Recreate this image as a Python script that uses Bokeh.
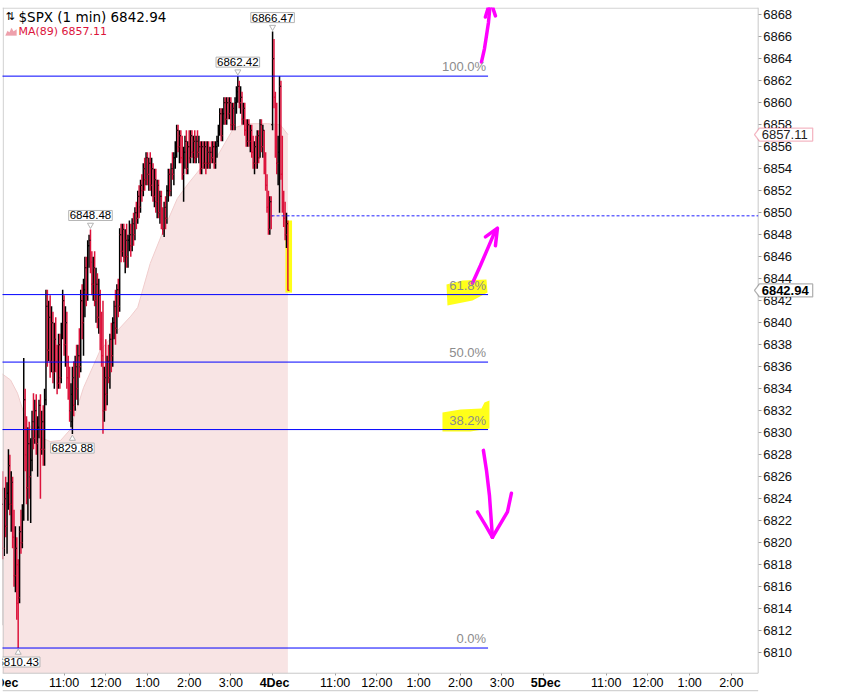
import pandas as pd
from bokeh.plotting import figure
from bokeh.models import ColumnDataSource, Range1d, FixedTicker, Label, PolyAnnotation
from bokeh.embed import file_html
from bokeh.resources import INLINE

# ---------------- data ----------------
SYMBOL = "$SPX"
INTERVAL = "1 min"
MA_PERIOD = 89
SESSIONS = ["2025-12-03", "2025-12-04", "2025-12-05"]
SESSION_OPEN = "09:30"
SESSION_MINUTES = 390

BAR_TIMES = (list(pd.date_range("2025-12-03 09:30", "2025-12-03 15:58", freq="2min")) +
             list(pd.date_range("2025-12-04 09:30", "2025-12-04 09:52", freq="2min")))

OPEN = [
    6814.0, 6823.5, 6819.5, 6824.0, 6821.5, 6824.5, 6827.0, 6823.5, 6825.5, 6820.5,
    6817.0, 6819.5, 6818.0, 6815.0, 6821.0, 6820.0, 6822.5, 6833.0, 6828.0, 6825.0,
    6829.0, 6826.0, 6827.5, 6831.0, 6829.5, 6832.0, 6829.0, 6830.5, 6832.5, 6828.5,
    6831.0, 6828.5, 6833.0, 6841.5, 6837.5, 6840.5, 6836.5, 6840.0, 6835.5, 6838.5,
    6836.5, 6834.5, 6838.0, 6835.0, 6839.5, 6842.0, 6838.0, 6840.0, 6835.0, 6834.0,
    6832.0, 6831.0, 6835.0, 6832.5, 6836.0, 6834.0, 6837.0, 6836.0, 6842.0, 6840.0,
    6843.0, 6845.0, 6842.5, 6847.0, 6847.5, 6845.5, 6843.5, 6845.0, 6842.0, 6843.5,
    6840.5, 6842.5, 6838.5, 6837.0, 6832.0, 6835.0, 6833.5, 6836.5, 6835.0, 6838.5,
    6837.0, 6840.0, 6841.5, 6839.5, 6843.0, 6841.5, 6848.0, 6846.5, 6848.5, 6846.0,
    6847.5, 6846.0, 6847.5, 6848.0, 6847.0, 6849.0, 6848.0, 6850.0, 6849.5, 6851.5,
    6850.5, 6852.5, 6852.0, 6854.0, 6853.0, 6855.0, 6853.5, 6854.5, 6852.5, 6854.0,
    6851.5, 6853.0, 6851.0, 6852.5, 6850.0, 6851.5, 6849.0, 6848.5, 6850.5, 6849.5,
    6852.0, 6853.5, 6852.0, 6854.0, 6853.5, 6855.0, 6856.0, 6857.5, 6856.0, 6857.0,
    6855.0, 6853.5, 6855.5, 6856.5, 6854.0, 6856.0, 6855.0, 6857.0, 6855.5, 6856.5,
    6855.0, 6856.5, 6855.5, 6856.0, 6854.0, 6856.0, 6854.5, 6856.0, 6854.5, 6855.5,
    6854.5, 6855.5, 6855.0, 6856.0, 6854.5, 6856.0, 6856.5, 6857.5, 6859.0, 6857.0,
    6859.0, 6860.0, 6858.5, 6860.0, 6859.0, 6860.0, 6858.0, 6859.5, 6858.0, 6860.0,
    6861.0, 6861.5, 6860.0, 6860.5, 6858.5, 6859.5, 6857.5, 6856.5, 6858.0, 6856.5,
    6857.5, 6855.5, 6854.5, 6856.0, 6854.5, 6857.0, 6855.0, 6858.0, 6856.0, 6857.5,
    6854.0, 6852.5, 6850.5, 6848.5, 6851.0,
    6858.0, 6864.0, 6860.5, 6856.0, 6854.5, 6855.5, 6861.5, 6853.5, 6851.0, 6849.5, 6848.0, 6849.0,
]
HIGH = [
    6825.0, 6826.5, 6825.0, 6826.0, 6825.5, 6828.5, 6828.0, 6826.5, 6826.0, 6823.0,
    6821.5, 6820.5, 6818.5, 6821.5, 6823.0, 6823.5, 6836.8, 6834.0, 6831.5, 6830.5,
    6831.0, 6829.5, 6832.0, 6833.6, 6833.0, 6833.5, 6831.5, 6833.0, 6833.5, 6832.0,
    6832.5, 6834.0, 6843.0, 6843.0, 6842.0, 6842.5, 6841.5, 6841.0, 6840.0, 6840.5,
    6838.0, 6839.0, 6839.0, 6840.0, 6843.0, 6842.5, 6841.5, 6841.0, 6837.0, 6836.0,
    6834.5, 6836.0, 6836.5, 6837.0, 6838.0, 6838.0, 6839.5, 6843.0, 6843.5, 6844.0,
    6846.0, 6846.0, 6847.5, 6848.0, 6848.48, 6846.5, 6846.0, 6846.5, 6845.0, 6844.5,
    6844.0, 6843.0, 6841.0, 6842.0, 6836.0, 6838.5, 6837.0, 6838.0, 6839.0, 6840.0,
    6840.5, 6842.0, 6843.0, 6843.5, 6844.0, 6848.6, 6849.0, 6849.0, 6849.0, 6848.5,
    6849.0, 6848.0, 6849.3, 6849.0, 6849.5, 6850.0, 6850.5, 6851.0, 6852.0, 6852.5,
    6853.0, 6853.5, 6854.5, 6855.0, 6855.5, 6855.5, 6855.0, 6855.5, 6855.0, 6854.5,
    6854.0, 6854.0, 6853.0, 6853.0, 6852.0, 6852.0, 6850.5, 6851.0, 6851.5, 6852.5,
    6854.0, 6854.0, 6854.5, 6855.5, 6855.5, 6856.5, 6858.0, 6858.0, 6857.5, 6857.5,
    6857.0, 6856.0, 6857.0, 6857.5, 6856.5, 6857.5, 6857.5, 6857.5, 6857.0, 6857.5,
    6857.0, 6857.5, 6857.0, 6856.5, 6856.5, 6856.5, 6856.5, 6856.5, 6856.5, 6856.5,
    6856.0, 6856.5, 6856.5, 6856.5, 6856.5, 6857.0, 6858.0, 6859.5, 6859.5, 6859.5,
    6860.5, 6860.5, 6860.5, 6860.5, 6860.5, 6860.5, 6860.0, 6860.0, 6860.5, 6861.5,
    6862.42, 6862.0, 6861.5, 6861.0, 6860.0, 6860.0, 6858.5, 6858.5, 6858.5, 6858.0,
    6858.0, 6857.0, 6856.5, 6857.0, 6857.5, 6857.5, 6858.5, 6858.5, 6858.0, 6857.5,
    6855.5, 6853.5, 6852.0, 6851.5, 6851.5,
    6866.47, 6865.8, 6861.0, 6860.0, 6857.0, 6862.4, 6862.0, 6857.0, 6852.0, 6851.0, 6850.0, 6849.3,
]
LOW = [
    6812.5, 6818.5, 6818.8, 6820.5, 6819.0, 6823.0, 6822.5, 6821.0, 6819.5, 6816.0,
    6815.5, 6813.0, 6810.43, 6814.5, 6819.0, 6819.5, 6822.0, 6826.5, 6823.5, 6822.0,
    6824.0, 6821.8, 6826.5, 6828.5, 6829.0, 6828.0, 6826.0, 6829.5, 6824.0, 6828.0,
    6827.0, 6827.0, 6832.5, 6836.0, 6836.5, 6835.0, 6835.5, 6834.5, 6834.0, 6835.5,
    6833.5, 6834.0, 6834.0, 6834.5, 6838.5, 6837.0, 6836.0, 6834.0, 6833.0, 6831.0,
    6830.5, 6829.88, 6831.5, 6832.0, 6833.0, 6832.5, 6835.0, 6835.5, 6838.5, 6837.0,
    6840.5, 6841.5, 6842.0, 6845.0, 6844.5, 6842.5, 6842.0, 6841.5, 6840.0, 6839.5,
    6839.0, 6837.5, 6836.0, 6829.9, 6831.0, 6832.0, 6832.5, 6834.5, 6834.0, 6835.5,
    6836.0, 6838.5, 6838.0, 6839.0, 6840.5, 6841.0, 6845.5, 6846.0, 6845.5, 6844.5,
    6845.0, 6845.0, 6846.5, 6846.0, 6846.5, 6847.0, 6847.5, 6848.5, 6849.0, 6849.5,
    6850.0, 6851.0, 6851.5, 6852.0, 6852.5, 6852.5, 6852.0, 6852.0, 6851.5, 6851.0,
    6850.5, 6850.0, 6849.5, 6849.5, 6849.0, 6848.5, 6848.0, 6847.8, 6848.5, 6849.0,
    6851.0, 6851.5, 6851.5, 6853.0, 6852.5, 6854.0, 6855.0, 6855.5, 6854.5, 6854.5,
    6853.0, 6851.0, 6854.0, 6853.5, 6853.5, 6854.5, 6854.5, 6855.0, 6854.5, 6854.5,
    6854.5, 6855.0, 6854.5, 6853.5, 6853.5, 6854.0, 6854.0, 6853.5, 6854.0, 6854.0,
    6854.0, 6854.5, 6854.5, 6854.0, 6854.0, 6855.0, 6856.0, 6857.0, 6856.5, 6856.5,
    6858.0, 6858.0, 6858.0, 6858.5, 6858.5, 6857.5, 6857.5, 6857.5, 6857.5, 6859.0,
    6860.0, 6859.5, 6859.0, 6858.0, 6858.0, 6857.0, 6856.0, 6856.0, 6856.0, 6855.5,
    6855.0, 6854.0, 6853.5, 6854.0, 6854.0, 6854.5, 6855.0, 6855.5, 6855.0, 6853.5,
    6852.0, 6850.0, 6848.0, 6848.0, 6848.5,
    6857.5, 6859.5, 6855.0, 6853.5, 6852.5, 6850.0, 6853.0, 6850.0, 6848.7, 6847.5, 6846.8, 6842.94,
]
CLOSE = [
    6823.5, 6819.5, 6824.0, 6821.5, 6824.5, 6827.0, 6823.5, 6825.5, 6820.5, 6817.0,
    6819.5, 6814.5, 6815.0, 6821.0, 6820.0, 6822.5, 6833.0, 6828.0, 6825.0, 6829.0,
    6826.0, 6827.5, 6831.0, 6829.5, 6832.0, 6829.0, 6830.5, 6832.5, 6828.5, 6831.0,
    6828.5, 6833.0, 6841.5, 6837.5, 6840.5, 6836.5, 6840.0, 6835.5, 6838.5, 6836.5,
    6834.5, 6838.0, 6835.0, 6839.5, 6842.0, 6838.0, 6840.0, 6835.0, 6834.0, 6832.0,
    6833.5, 6835.0, 6832.5, 6836.0, 6834.0, 6837.0, 6836.0, 6842.0, 6840.0, 6843.0,
    6845.0, 6842.5, 6847.0, 6847.5, 6845.5, 6843.5, 6845.0, 6842.0, 6843.5, 6840.5,
    6842.5, 6838.5, 6837.0, 6832.0, 6835.0, 6833.5, 6836.5, 6835.0, 6838.5, 6837.0,
    6840.0, 6841.5, 6839.5, 6843.0, 6841.5, 6848.0, 6846.5, 6848.5, 6846.0, 6847.5,
    6846.0, 6847.5, 6848.0, 6847.0, 6849.0, 6848.0, 6850.0, 6849.5, 6851.5, 6850.5,
    6852.5, 6852.0, 6854.0, 6853.0, 6855.0, 6853.5, 6854.5, 6852.5, 6854.0, 6851.5,
    6853.0, 6851.0, 6852.5, 6850.0, 6851.5, 6849.0, 6848.5, 6850.5, 6849.5, 6852.0,
    6853.5, 6852.0, 6854.0, 6853.5, 6855.0, 6856.0, 6857.5, 6856.0, 6857.0, 6855.0,
    6853.5, 6855.5, 6856.5, 6854.0, 6856.0, 6855.0, 6857.0, 6855.5, 6856.5, 6855.0,
    6856.5, 6855.5, 6856.0, 6854.0, 6856.0, 6854.5, 6856.0, 6854.5, 6855.5, 6854.5,
    6855.5, 6855.0, 6856.0, 6854.5, 6856.0, 6856.5, 6857.5, 6859.0, 6857.0, 6859.0,
    6860.0, 6858.5, 6860.0, 6859.0, 6860.0, 6858.0, 6859.5, 6858.0, 6860.0, 6861.0,
    6861.5, 6860.0, 6860.5, 6858.5, 6859.5, 6857.5, 6856.5, 6858.0, 6856.5, 6857.5,
    6855.5, 6854.5, 6856.0, 6854.5, 6857.0, 6855.0, 6858.0, 6856.0, 6857.5, 6854.0,
    6852.5, 6850.5, 6848.5, 6851.0, 6849.72,
    6864.0, 6860.5, 6856.0, 6854.5, 6855.5, 6861.5, 6853.5, 6851.0, 6849.5, 6848.0, 6849.0, 6842.94,
]

MA_TIMES = [
    "2025-12-03 09:30", "2025-12-03 09:43", "2025-12-03 09:53", "2025-12-03 10:02",
    "2025-12-03 10:12", "2025-12-03 10:26", "2025-12-03 10:40", "2025-12-03 10:55",
    "2025-12-03 11:09", "2025-12-03 11:28", "2025-12-03 11:52", "2025-12-03 12:17",
    "2025-12-03 12:36", "2025-12-03 12:46", "2025-12-03 13:04", "2025-12-03 13:23",
    "2025-12-03 13:43", "2025-12-03 13:58", "2025-12-03 14:16", "2025-12-03 14:41",
    "2025-12-03 15:04", "2025-12-03 15:24", "2025-12-03 15:53", "2025-12-04 09:41",
    "2025-12-04 09:52",
]
MA_VALUES = [
    6835.4, 6834.8, 6833.6, 6831.8, 6830.5, 6829.6, 6829.2, 6829.3, 6830.3, 6834.1,
    6837.5, 6839.3, 6840.6, 6841.4, 6845.4, 6848.4, 6851.3, 6852.6, 6854.0, 6855.2,
    6857.7, 6858.1, 6858.1, 6858.0, 6857.11,
]

SWING_HIGH = 6862.42
SWING_LOW = 6810.43
FIB_RATIOS = [0.0, 0.382, 0.5, 0.618, 1.0]
FIB_LABELS = ["0.0%", "38.2%", "50.0%", "61.8%", "100.0%"]
FIB_END = "2025-12-04 14:40"
PREV_CLOSE = 6849.72
PREV_CLOSE_FROM = "2025-12-04 09:30"

CALLOUT_HIGHS = [6866.47, 6862.42, 6848.48]
CALLOUT_LOWS = [6829.88, 6810.43]

Y_TICKS = list(range(6810, 6870, 2))
HOUR_TICKS = [
    "2025-12-03 11:00", "2025-12-03 12:00", "2025-12-03 13:00", "2025-12-03 14:00", "2025-12-03 15:00",
    "2025-12-04 11:00", "2025-12-04 12:00", "2025-12-04 13:00", "2025-12-04 14:00", "2025-12-04 15:00",
    "2025-12-05 11:00", "2025-12-05 12:00", "2025-12-05 13:00", "2025-12-05 14:00",
]
HOUR_LABELS = ["11:00", "12:00", "1:00", "2:00", "3:00",
               "11:00", "12:00", "1:00", "2:00", "3:00",
               "11:00", "12:00", "1:00", "2:00"]
DAY_TICKS = ["2025-12-03 09:30", "2025-12-04 09:30", "2025-12-05 09:30"]
DAY_LABELS = ["3Dec", "4Dec", "5Dec"]

# hand-drawn marks (trading minutes since the 3 Dec open, price)
STROKES_T = [
    [690.5, 694.8, 697.7, 700.6, 703.4], [696.2, 703.4, 710.6],
    [677.5, 689.0, 700.5, 709.2], [696.2, 713.5, 710.6],
    [693.3, 697.7, 702.0, 706.3], [684.7, 696.2, 706.3], [733.6, 727.9, 706.3],
]
STROKES_P = [
    [6863.7, 6864.9, 6866.1, 6867.3, 6869.2], [6867.8, 6869.3, 6867.9],
    [6843.6, 6845.2, 6846.9, 6848.2], [6847.8, 6848.6, 6847.0],
    [6828.4, 6826.6, 6824.3, 6820.5], [6822.8, 6821.6, 6820.5], [6824.5, 6822.8, 6820.5],
]
HILITE_T = [
    [640.2, 663.2, 697.7, 699.2, 677.6, 641.6],
    [634.4, 660.3, 690.5, 694.8, 702.0, 702.0, 674.7, 634.4],
]
HILITE_P = [
    [6843.48, 6843.84, 6843.93, 6842.75, 6842.02, 6841.57],
    [6831.85, 6832.12, 6832.21, 6832.76, 6832.94, 6830.39, 6830.12, 6830.12],
]

# ---------------- view / layout ----------------
def tmin(ts):
    t = pd.Timestamp(ts)
    d = t.strftime("%Y-%m-%d")
    day = SESSIONS.index(d)
    return day * SESSION_MINUTES + (t - pd.Timestamp(d + " " + SESSION_OPEN)).total_seconds() / 60.0

FRAME_W, FRAME_H = 818, 686
PPM = 0.69509          # px per trading minute
PPU = 11.0             # px per index point
X_START = 1.44         # trading minutes at frame left
Y_TOP = 6868.66        # price at frame top
x0, x1 = X_START, X_START + FRAME_W / PPM
y1 = Y_TOP
y0 = Y_TOP - FRAME_H / PPU
AX_X = 1088.6          # price axis location (trading minutes)
AX_Y = 6808.14         # time axis location (price)
LOW_PANEL_Y = 6806.55  # top edge of the (cut) lower panel

UP = "#000000"
DOWN = "#dc143c"
BLUE = "#0000ff"
BORDER = "#c8c8c8"

p = figure(frame_width=FRAME_W, frame_height=FRAME_H,
           x_range=Range1d(x0, x1), y_range=Range1d(y0, y1),
           y_axis_location="right", toolbar_location=None, output_backend="svg",
           min_border_left=2, min_border_top=7, min_border_bottom=0, min_border_right=0,
           background_fill_color="white", border_fill_color="white",
           outline_line_color=None)
p.grid.grid_line_color = None

# MA(89) area
ma_t = [tmin(s) for s in MA_TIMES]
p.varea(x=ma_t, y1=AX_Y, y2=MA_VALUES, fill_color="#f8e4e4")
p.line(ma_t, MA_VALUES, line_color="#f0cdcd", line_width=1)

# bars
t = [tmin(s) for s in BAR_TIMES]
TICK = 2.2
colors = [UP if c >= o else DOWN for o, c in zip(OPEN, CLOSE)]
src = ColumnDataSource(dict(t=t, o=OPEN, h=HIGH, l=LOW, c=CLOSE, color=colors,
                            tl=[v - TICK for v in t], tr=[v + TICK for v in t]))

# highlighter marks (under the bars)
p.quad(left=[t[-1] - 3.5], right=[t[-1] + 6.0], top=[HIGH[-1]], bottom=[LOW[-1] - 0.2],
       fill_color="#ffff00", fill_alpha=0.9, line_color=None)
for ht, hp in zip(HILITE_T, HILITE_P):
    p.patch(ht, hp, fill_color="#ffff00", fill_alpha=0.9, line_color=None)

p.segment("t", "l", "t", "h", color="color", line_width=1.5, source=src)
p.segment("tl", "o", "t", "o", color="color", line_width=1.2, source=src)
p.segment("t", "c", "tr", "c", color="color", line_width=1.2, source=src)

# frame borders (plot area ends at the price axis)
p.segment(x0=[x0, x0 + 0.7 / PPM, AX_X, x0, x0], y0=[Y_TOP - 0.6 / PPU, AX_Y, AX_Y, AX_Y, LOW_PANEL_Y],
          x1=[AX_X, x0 + 0.7 / PPM, AX_X, AX_X, AX_X], y1=[Y_TOP - 0.6 / PPU, Y_TOP, Y_TOP, AX_Y, LOW_PANEL_Y],
          line_color=BORDER, line_width=1)

# Fibonacci retracement
levels = [SWING_LOW + r * (SWING_HIGH - SWING_LOW) for r in FIB_RATIOS]
fib_end = tmin(FIB_END)
p.segment(x0=[x0 - 30] * len(levels), y0=levels, x1=[fib_end] * len(levels), y1=levels,
          line_color=BLUE, line_width=1)
for lv, lab in zip(levels, FIB_LABELS):
    p.add_layout(Label(x=fib_end, y=lv, text=lab, text_align="right", text_baseline="bottom",
                       x_offset=-2, y_offset=2, text_font="Liberation Sans",
                       text_font_size="13px", text_color="#8c8c8c"))

# previous close
p.segment(x0=[tmin(PREV_CLOSE_FROM) - 1.5], y0=[PREV_CLOSE], x1=[AX_X], y1=[PREV_CLOSE],
          line_color="#2020ff", line_width=1, line_dash="3 2")

# callouts
for v in CALLOUT_HIGHS:
    i = HIGH.index(v)
    p.scatter([t[i]], [v + 4.5 / PPU], marker="inverted_triangle", size=6,
              fill_color="white", line_color="#b4b4b4")
    p.add_layout(Label(x=t[i], y=v, text=f"{v:.2f}", text_align="center", text_baseline="bottom",
                       y_offset=9, text_font="Liberation Sans", text_font_size="11.5px",
                       text_color="#000000", background_fill_color="white",
                       border_line_color="#b4b4b4", padding=1))
for v in CALLOUT_LOWS:
    i = LOW.index(v)
    p.scatter([t[i]], [v - 4.5 / PPU], marker="triangle", size=6,
              fill_color="white", line_color="#b4b4b4")
    p.add_layout(Label(x=t[i], y=v, text=f"{v:.2f}", text_align="center", text_baseline="top",
                       y_offset=-9, text_font="Liberation Sans", text_font_size="11.5px",
                       text_color="#000000", background_fill_color="white",
                       border_line_color="#b4b4b4", padding=1))

# hand-drawn arrows
p.multi_line(STROKES_T, STROKES_P, line_color="#ff00ff", line_width=3.5,
             line_cap="round", line_join="round")

# price tags on the axis
def price_tag(price, border, bold, color):
    h = 6.5 / PPU
    xs = [AX_X - 3.7 / PPM, AX_X + 1.3 / PPM, AX_X + 54.5 / PPM, AX_X + 54.5 / PPM, AX_X + 1.3 / PPM]
    ys = [price, price + h, price + h, price - h, price - h]
    p.add_layout(PolyAnnotation(xs=xs, ys=ys, fill_color="white", fill_alpha=1.0,
                                line_color=border, line_width=1.3))
    p.add_layout(Label(x=AX_X, y=price, x_offset=3.5, text=f"{price:.2f}", text_align="left",
                       text_baseline="middle", text_font="Liberation Sans", text_font_size="13px",
                       text_font_style="bold" if bold else "normal", text_color=color))

# header texts
p.add_layout(Label(x=3, y=FRAME_H - 9, x_units="screen", y_units="screen", text="\u21c5",
                   text_baseline="middle", text_font="DejaVu Sans", text_font_size="11px",
                   text_color="#000000"))
p.add_layout(Label(x=16, y=FRAME_H - 9, x_units="screen", y_units="screen",
                   text=f"{SYMBOL} ({INTERVAL}) {CLOSE[-1]:.2f}", text_baseline="middle",
                   text_font="DejaVu Sans", text_font_size="13.5px", text_color="#000000"))
ic_x = [3, 5, 7, 9, 11, 14, 14]
ic_y = [FRAME_H - 28, FRAME_H - 23.5, FRAME_H - 25, FRAME_H - 20.5, FRAME_H - 24, FRAME_H - 22, FRAME_H - 28]
p.add_layout(PolyAnnotation(xs=ic_x, ys=ic_y, xs_units="screen", ys_units="screen",
                            fill_color="#eea0ac", fill_alpha=1.0, line_color="#e07080", line_width=0.5))
p.add_layout(Label(x=16, y=FRAME_H - 24, x_units="screen", y_units="screen",
                   text=f"MA({MA_PERIOD}) {MA_VALUES[-1]:.2f}", text_baseline="middle",
                   text_font="DejaVu Sans", text_font_size="11px", text_color="#dc143c"))

# axes (placed at fixed locations inside the canvas)
yax = p.yaxis[0]
yax.fixed_location = AX_X
yax.ticker = FixedTicker(ticks=Y_TICKS)
yax.axis_line_color = None
yax.major_tick_out = 3
yax.major_tick_in = 0
yax.minor_tick_line_color = None
yax.major_tick_line_color = "#a0a0a0"
yax.major_label_standoff = 2
yax.major_label_text_font = "Liberation Sans"
yax.major_label_text_font_size = "13px"
yax.major_label_text_color = "#111111"

xax = p.xaxis[0]
xax.fixed_location = AX_Y
hour_pos = [int(round(tmin(s))) for s in HOUR_TICKS]
day_pos = [int(round(tmin(s))) for s in DAY_TICKS]
xax.ticker = FixedTicker(ticks=hour_pos + day_pos)
overrides = {k: v for k, v in zip(hour_pos, HOUR_LABELS)}
overrides.update({k: "" for k in day_pos})
xax.major_label_overrides = overrides
xax.axis_line_color = None
xax.major_tick_out = 2
xax.major_tick_in = 0
xax.minor_tick_line_color = None
xax.major_tick_line_color = "#a0a0a0"
xax.major_label_standoff = 1
xax.major_label_text_font = "Liberation Sans"
xax.major_label_text_font_size = "12.5px"
xax.major_label_text_color = "#000000"
for pos, lab in zip(day_pos, DAY_LABELS):
    p.add_layout(Label(x=pos, y=AX_Y, y_offset=-3, x_offset=2, text=lab,
                       text_align="center", text_baseline="top", text_font="Liberation Sans",
                       text_font_size="12.5px", text_font_style="bold", text_color="#000000"))

price_tag(MA_VALUES[-1], "#dc143c", False, "#222222")
price_tag(CLOSE[-1], "#000000", True, "#000000")

open("out.html", "w").write(file_html(p, INLINE))
